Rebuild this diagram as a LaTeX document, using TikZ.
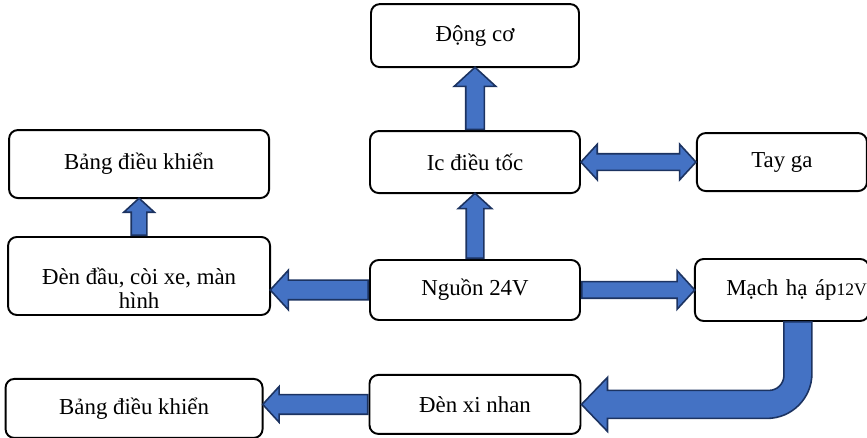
\documentclass[tikz,border=0pt]{standalone}
\usepackage{fontspec}
\setmainfont{Liberation Serif}
\usetikzlibrary{positioning,calc,shapes.arrows}
\definecolor{arrfill}{HTML}{4472C4}
\definecolor{arrline}{HTML}{1C3361}

\begin{document}
\begin{tikzpicture}[
    font=\fontsize{13}{13.8}\selectfont,
    box/.style={draw=black, line width=1.1pt, rounded corners=5pt, align=center,
      inner sep=2pt},
    blk/.style={draw=arrline, fill=arrfill, line width=0.9pt, inner sep=0pt,
      single arrow, single arrow head indent=0pt, single arrow tip angle=95,
      double arrow tip angle=95}
  ]
  \useasboundingbox (0,0) rectangle (17.34,8.76);

  \node[box, minimum width=4.20cm, minimum height=1.20cm] (nguon) at (9.50,2.96) {Nguồn 24V};
  \node[box, minimum width=4.20cm, minimum height=1.24cm, above=1.30cm of nguon] (ic) {Ic điều tốc};
  \node[box, minimum width=4.16cm, minimum height=1.26cm, above=1.24cm of ic] (dongco) {Động cơ};
  \node[box, minimum width=3.40cm, minimum height=1.16cm, right=2.30cm of ic] (tayga) {Tay ga};
  \node[box, text width=3.40cm, inner xsep=0.04cm, minimum height=1.24cm, align=right,
    right=2.26cm of nguon] (mach) {Mạch hạ áp{\fontsize{10}{12}\selectfont 12V}};
  \node[box, minimum width=5.24cm, minimum height=1.56cm, left=1.96cm of nguon, yshift=0.28cm,
    label={[align=center, yshift=-0.24cm]center:{Đèn đầu, còi xe, màn\\hình}}] (dendau) {};
  \node[box, minimum width=5.20cm, minimum height=1.36cm, above=0.74cm of dendau] (bang1) {Bảng điều khiển};
  \node[box, minimum width=4.22cm, minimum height=1.18cm, below=1.06cm of nguon] (xinhan) {Đèn xi nhan};
  \node[box, minimum width=5.14cm, minimum height=1.18cm, left=2.10cm of xinhan, yshift=-0.08cm] (bang2) {Bảng điều khiển};

  % straight block arrows: from / to / half shaft / head extend
  \foreach \a/\b/\sh/\ex in {ic.north/dongco.south/0.17cm/0.23cm,
      nguon.north/ic.south/0.16cm/0.16cm,
      dendau.north/dendau.north |- bang1.south/0.14cm/0.15cm,
      nguon.west/nguon.west -| dendau.east/0.18cm/0.20cm,
      nguon.east/nguon.east -| mach.west/0.15cm/0.22cm,
      xinhan.west/xinhan.west -| bang2.east/0.18cm/0.16cm}
    \path let \p1=($(\b)-(\a)$), \n1={veclen(\x1,\y1)}, \n2={atan2(\y1,\x1)} in
      node[blk, minimum height=\n1, inner ysep=\sh, single arrow head extend=\ex,
        rotate=\n2, anchor=tail] at (\a) {};

  \path let \p1=($(tayga.west)-(ic.east)$) in
    node[blk, double arrow, minimum height=\x1, inner ysep=0.15cm,
      double arrow head extend=0.19cm, double arrow head indent=0pt]
    at ($(ic.east)!0.5!(tayga.west)$) {};

  % bent arrow down from the 12V board
  \coordinate (bt) at ($(mach.south)+(0.32,0)$);
  \coordinate (bk) at (bt |- xinhan.east);
  \draw[blk] ($(bt)+(-0.28,0)$) -- ($(bk)+(-0.28,0.58)$)
    arc[start angle=0, end angle=-90, radius=0.3cm]
    -- ($(xinhan.east)+(0.52,0.28)$) -- ++(0,0.26) -- (xinhan.east)
    -- ++(0.52,-0.54) -- ++(0,0.26) -- ($(bk)+(-0.62,-0.28)$)
    arc[start angle=-90, end angle=0, radius=0.9cm] -- ($(bt)+(0.28,0)$) -- cycle;
\end{tikzpicture}
\end{document}
